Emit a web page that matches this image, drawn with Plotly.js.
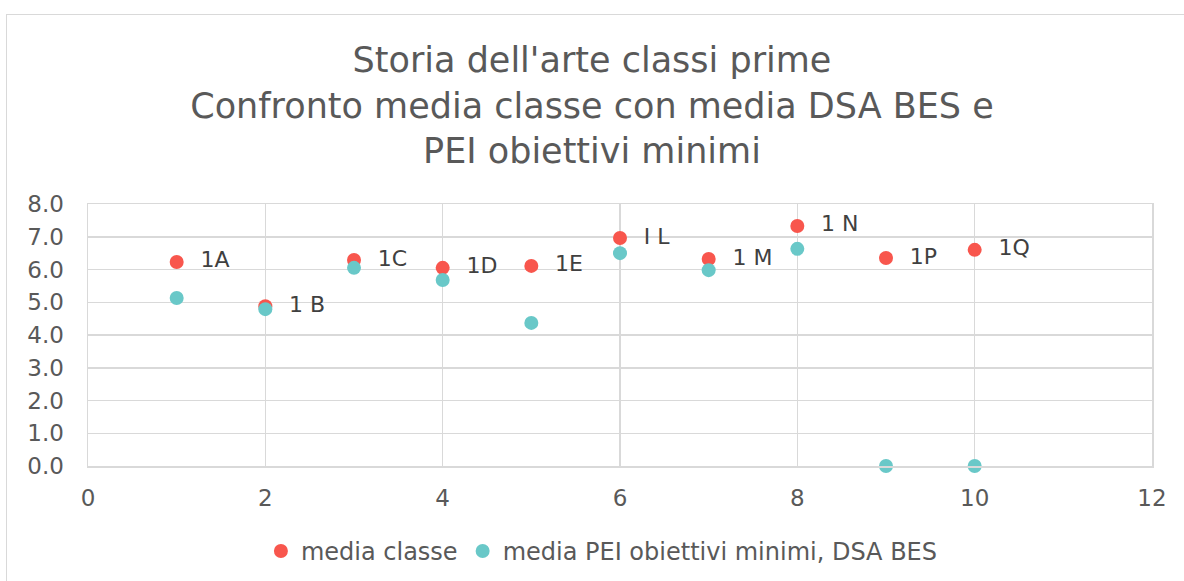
<!DOCTYPE html>
<html><head><meta charset="utf-8">
<script src="https://cdn.plot.ly/plotly-3.0.1.min.js"></script>
<style>
html,body{margin:0;padding:0;background:#fff;overflow:hidden;}
#wrap{position:absolute;left:6px;top:14px;width:1200px;height:600px;border:1px solid #d9d9d9;}
#chart{position:absolute;left:0;top:0;width:1184px;height:581px;}
</style></head>
<body>
<div id="wrap"></div>
<div id="chart"></div>
<script>
const classNum = [1,2,3,4,5,6,7,8,9,10];
const classLabels = ["1A","1 B","1C","1D","1E","I L","1 M","1 N","1P","1Q"];
const mediaClasse = [6.23,4.88,6.29,6.05,6.11,6.96,6.32,7.33,6.35,6.60];
const mediaPEI = [5.13,4.79,6.05,5.68,4.37,6.50,5.98,6.63,0,0];
const seriesNames = ["media classe","media PEI obiettivi minimi, DSA BES"];

const font = "Verdana, 'DejaVu Sans', sans-serif";
const traces = [
  {x: classNum, y: mediaClasse, name: seriesNames[0], type:"scatter", mode:"markers+text",
   text: classLabels.map(s=>"  "+s), textposition:"middle right",
   textfont:{family:font,size:22,color:"#404040"},
   marker:{color:"#f8564d",size:14}, cliponaxis:false},
  {x: classNum, y: mediaPEI, name: seriesNames[1], type:"scatter", mode:"markers",
   marker:{color:"#69c8c8",size:14}, cliponaxis:false}
];
const layout = {
  width:1184, height:581,
  paper_bgcolor:"rgba(0,0,0,0)", plot_bgcolor:"#fff",
  margin:{l:88,r:32,t:204,b:115,autoexpand:false},
  font:{family:font,color:"#595959"},
  title:{text:"Storia dell'arte classi prime<br>Confronto media classe con media DSA BES e<br>PEI obiettivi minimi",
    font:{family:font,size:35,color:"#595959"}, x:0.5, xanchor:"center", xref:"container",
    yref:"container", y:1-72/581, yanchor:"top", automargin:false},
  xaxis:{range:[0,12], dtick:2, tick0:0, showgrid:true, gridcolor:"#d9d9d9", gridwidth:1.5,
    zeroline:false, showline:true, linecolor:"#d9d9d9", linewidth:1.5, mirror:true, automargin:false,
    ticks:"", tickfont:{family:font,size:23,color:"#595959"}, ticklabelstandoff:11},
  yaxis:{range:[0,8], dtick:1, tick0:0, tickformat:".1f", showgrid:true, gridcolor:"#d9d9d9", gridwidth:1.5,
    zeroline:false, showline:true, linecolor:"#d9d9d9", linewidth:1.5, mirror:true, automargin:false,
    ticks:"", tickfont:{family:font,size:23,color:"#595959"}, ticklabelstandoff:18},
  showlegend:true,
  legend:{orientation:"h", x:0.483, xanchor:"center", y:-0.24, yanchor:"top",
    font:{family:font,size:24,color:"#595959"}, itemwidth:20}
};
Plotly.newPlot("chart", traces, layout, {displayModeBar:false, staticPlot:true});
</script>
</body></html>
